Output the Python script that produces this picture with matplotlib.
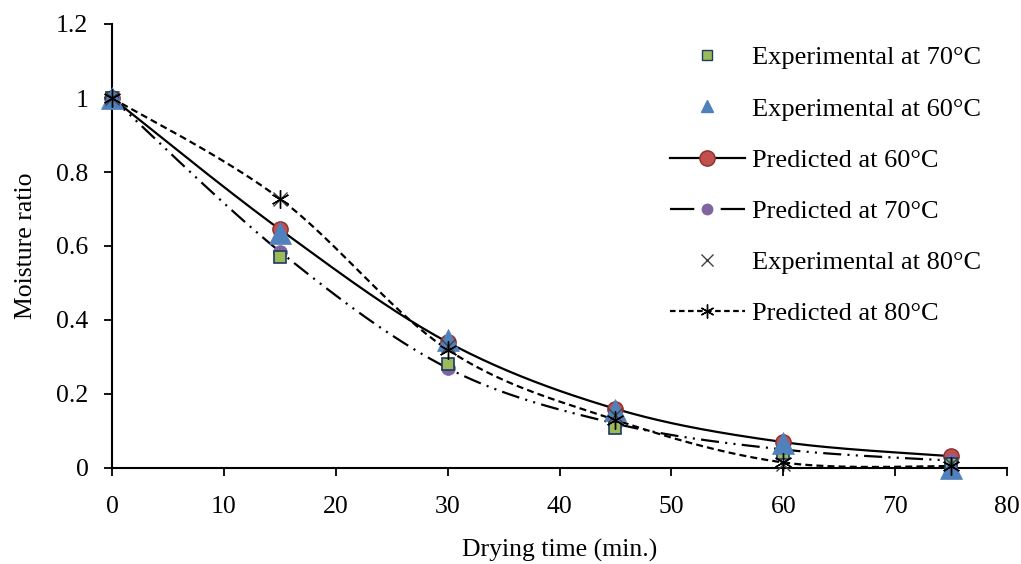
import numpy as np
import matplotlib
matplotlib.use('Agg')
import matplotlib.pyplot as plt
from matplotlib.lines import Line2D

plt.rcParams['font.family'] = ['Liberation Serif', 'DejaVu Serif']
plt.rcParams['lines.scale_dashes'] = False

# Drying time (min.)
time = [0, 15, 30, 45, 60, 75]

# Moisture ratio, experimental and predicted
exp_70 = [1.0, 0.57, 0.28, 0.108, 0.04, 0.01]
exp_60 = [1.0, 0.635, 0.345, 0.158, 0.068, 0.0]
pred_60 = [1.0, 0.645, 0.34, 0.16, 0.07, 0.032]
pred_70 = [1.0, 0.585, 0.27, 0.12, 0.05, 0.02]
exp_80 = [1.0, 0.728, 0.33, 0.142, 0.012, 0.01]
pred_80 = [1.0, 0.728, 0.32, 0.13, 0.015, 0.005]

labels = ['Experimental at 70°C', 'Experimental at 60°C', 'Predicted at 60°C',
          'Predicted at 70°C', 'Experimental at 80°C', 'Predicted at 80°C']


def smooth(x, y, n=40):
    # Bezier smoothing through every point (spreadsheet-style smoothed line)
    x = np.asarray(x, float)
    y = np.asarray(y, float)
    p = np.column_stack([x, y])
    pts = [p[0]]
    for i in range(len(p) - 1):
        p0 = p[i - 1] if i > 0 else p[i]
        p1, p2 = p[i], p[i + 1]
        p3 = p[i + 2] if i + 2 < len(p) else p[i + 1]
        c1 = p1 + (p2 - p0) / 6.0
        c2 = p2 - (p3 - p1) / 6.0
        t = np.linspace(0, 1, n)[1:, None]
        seg = ((1 - t) ** 3) * p1 + 3 * ((1 - t) ** 2) * t * c1 + 3 * (1 - t) * t ** 2 * c2 + t ** 3 * p2
        pts.extend(seg)
    pts = np.array(pts)
    return pts[:, 0], pts[:, 1]


fig = plt.figure(figsize=(10.21, 5.64), dpi=100)
ax = fig.add_axes([112 / 1021, 1 - 468 / 564, 895 / 1021, 444 / 564])

dashdotdot = (0, (13, 4.5, 1.5, 4.5, 1.5, 4.5))
shortdash = (0, (5, 3))

# fitted curves
sx, sy = smooth(time, pred_60)
ax.plot(sx, sy, color='black', lw=1.6, zorder=2, clip_on=False)
sx, sy = smooth(time, pred_70)
ax.plot(sx, sy, color='black', lw=1.6, linestyle=dashdotdot, zorder=2, clip_on=False)
sx, sy = smooth(time, pred_80)
ax.plot(sx, sy, color='black', lw=1.6, linestyle=shortdash, zorder=2, clip_on=False)

# markers
ax.plot(time, pred_60, 'o', ms=11, mfc='#C0504D', mec='#8B2F2C', mew=1, zorder=3, clip_on=False)
ax.plot(time, pred_70, 'o', ms=10, mfc='#8064A2', mec='#8064A2', mew=0.5, zorder=3, clip_on=False)
ax.plot(time, exp_70, 's', ms=9, mfc='#9BBB59', mec='#1F3864', mew=1.2, zorder=4, clip_on=False)
ax.plot(time, exp_60, '^', ms=16, mfc='#4F81BD', mec='#4F81BD', mew=0.5, zorder=5, clip_on=False)
ax.plot(time, exp_80, 'x', ms=10, color='#404040', mew=1, zorder=6, clip_on=False)
ax.plot(time, pred_80, marker=(6, 2, 0), ls='none', ms=13, color='black', mew=1, zorder=6, clip_on=False)

ax.set_xlim(0, 80)
ax.set_ylim(0, 1.2)
ax.set_xticks(np.arange(0, 81, 10))
ax.set_yticks(np.arange(0, 1.21, 0.2))
ax.set_yticklabels(['0', '0.2', '0.4', '0.6', '0.8', '1', '1.2'])
for s in ['top', 'right']:
    ax.spines[s].set_visible(False)
for s in ['left', 'bottom']:
    ax.spines[s].set_linewidth(1.5)
ax.tick_params(axis='both', direction='out', length=6, width=1.3, labelsize=18.5)
ax.tick_params(axis='x', pad=14)
ax.tick_params(axis='y', pad=11)
ax.set_xlabel('Drying time (min.)', fontsize=18.5, labelpad=15)
ax.set_ylabel('Moisture ratio', fontsize=18.5, labelpad=13.5)

handles = [
    Line2D([], [], ls='none', marker='s', ms=7, mfc='#9BBB59', mec='#1F3864', mew=1),
    Line2D([], [], ls='none', marker='^', ms=9, mfc='#4F81BD', mec='#4F81BD'),
    Line2D([], [], color='black', lw=1.6, marker='o', ms=11, mfc='#C0504D', mec='#8B2F2C'),
    Line2D([], [], color='black', lw=1.6, ls=(0, (17.5, 19)), marker='o', ms=7.5, mfc='#8064A2', mec='#8064A2'),
    Line2D([], [], ls='none', marker='x', ms=8, color='#404040', mew=1),
    Line2D([], [], color='black', lw=1.6, ls=(0, (4, 2.5)), marker=(6, 2, 0), ms=10, mew=1),
]
fig.legend(handles, labels, loc='upper left', bbox_to_anchor=(670 / 1021, 1 - 46 / 564),
           frameon=False, fontsize=19, handlelength=2.84, handletextpad=0.27,
           labelspacing=1.05, borderpad=0, borderaxespad=0)

fig.savefig('out.png', dpi=100)
